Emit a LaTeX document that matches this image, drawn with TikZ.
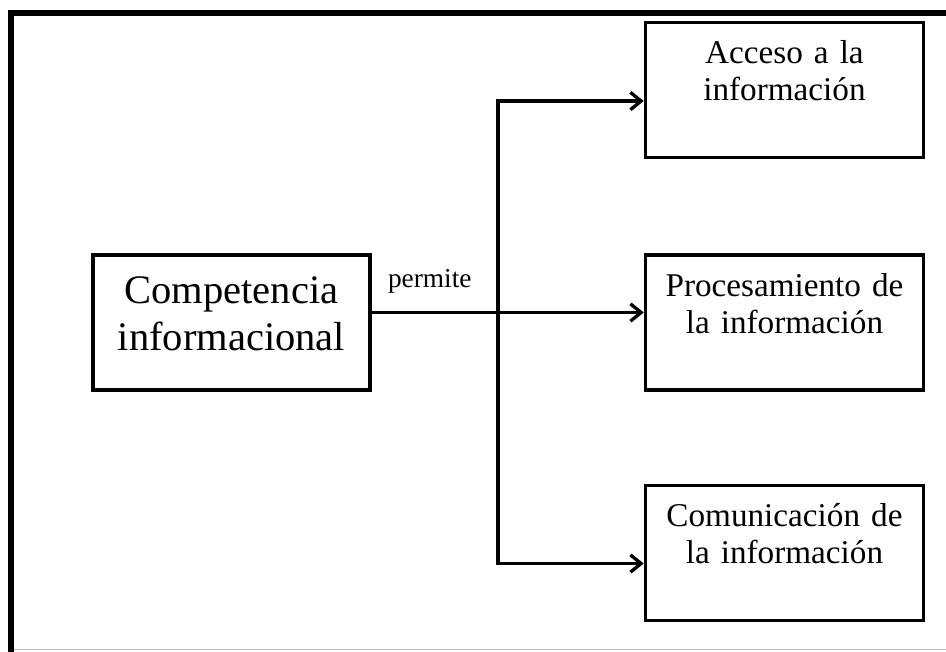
\documentclass[tikz,border=0pt]{standalone}
\usepackage{fontspec}
\setmainfont{Liberation Serif}
\usetikzlibrary{positioning,arrows.meta}

\begin{document}
\begin{tikzpicture}[x=0.75pt,y=-0.75pt,
		caja/.style={draw,
			line width=2.6pt,
			inner sep=0pt,
			align=center,
			text width=208.5pt,
			text height=30.75pt,
			text depth=70.5pt,
			font=\fontsize{24.9}{28}\selectfont},
		flecha/.style={line width=2.5pt,
			-{Straight Barb[length=8pt,width=13pt]}}]
			\useasboundingbox (0,0) rectangle (946,651);
			
			% Marco
			\draw[line width=4.5pt] (11,660) -- (11,12.5) -- (950,12.5);
			\draw[black!25, line width=0.75pt] (13.5,649.5) -- (946,649.5);
			
			% Competencia informacional
			\node [caja,
				text width=207.75pt,
				text height=36pt,
				text depth=65.25pt,
				font=\fontsize{30.4}{35.25}\selectfont
				] (comp) at (231.5,322.5) {Competencia\\informacional};
			
			% Procesamiento
			\node [caja,
				right=204pt of comp
				] (proc) {Procesamiento de\\la informaci\'on};
			
			% Acceso
			\node [caja,
				above=70.5pt of proc
				] (acc) {Acceso a la\\informaci\'on};
			
			% Comunicacion
			\node [caja,
				below=69pt of proc
				] (com) {Comunicaci\'on de\\la informaci\'on};
			
			% Flechas
			\coordinate (split) at (498,312.5);
			\draw[flecha] ([yshift=7.5pt]comp.east) -- ([yshift=7.5pt]proc.west)
				node[pos=0, anchor=base west, inner sep=0pt, xshift=11pt, yshift=18.75pt,
				font=\fontsize{20.5}{24}\selectfont]{permite};
			\draw[flecha] (split) |- ([yshift=-8.25pt]acc.west);
			\draw[flecha] (split) |- ([yshift=-7.9pt]com.west);
		
		\end{tikzpicture}
\end{document}
